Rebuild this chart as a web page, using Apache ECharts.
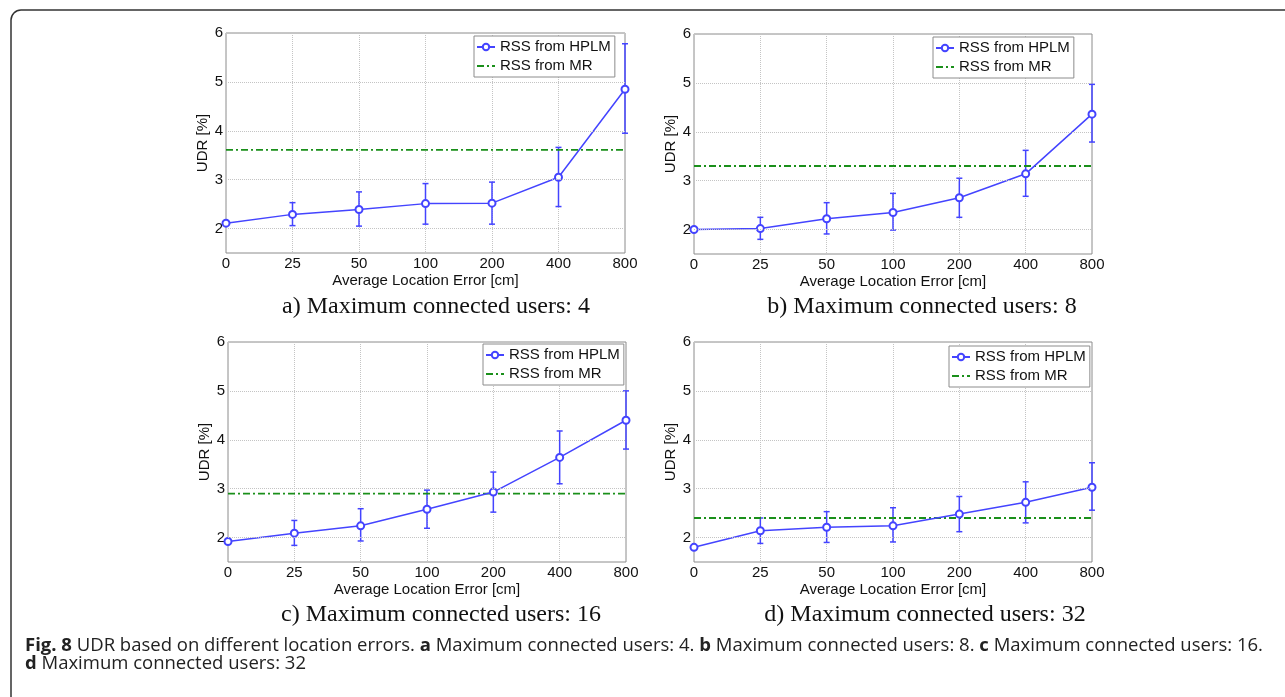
<!DOCTYPE html>
<html>
<head>
<meta charset="utf-8">
<script src="https://cdn.jsdelivr.net/npm/echarts@6/dist/echarts.min.js"></script>
<style>
html,body{margin:0;padding:0;background:#fff;}
#chart{width:1285px;height:697px;}
</style>
</head>
<body>
<div id="chart"></div>
<script>
// ---- data ----
const categories = ['0', '25', '50', '100', '200', '400', '800'];
const yTickValues = [2, 3, 4, 5, 6];

const hplmA = [2.11, 2.29, 2.39, 2.51, 2.52, 3.05, 4.85];
const lowA  = [null, 2.06, 2.05, 2.09, 2.09, 2.45, 3.95];
const highA = [null, 2.53, 2.75, 2.92, 2.95, 3.66, 5.78];
const mrA = 3.61;

const hplmB = [2.00, 2.02, 2.22, 2.35, 2.65, 3.14, 4.36];
const lowB  = [null, 1.80, 1.91, 1.99, 2.25, 2.68, 3.79];
const highB = [null, 2.25, 2.55, 2.74, 3.05, 3.62, 4.97];
const mrB = 3.30;

const hplmC = [1.92, 2.09, 2.24, 2.58, 2.93, 3.64, 4.40];
const lowC  = [null, 1.84, 1.93, 2.19, 2.52, 3.10, 3.81];
const highC = [null, 2.35, 2.59, 2.97, 3.34, 4.18, 5.00];
const mrC = 2.90;

const hplmD = [1.80, 2.14, 2.21, 2.24, 2.48, 2.72, 3.03];
const lowD  = [null, 1.88, 1.90, 1.91, 2.12, 2.30, 2.56];
const highD = [null, 2.40, 2.53, 2.61, 2.84, 3.14, 3.53];
const mrD = 2.40;

const subtitles = [
  'a) Maximum connected users: 4',
  'b) Maximum connected users: 8',
  'c) Maximum connected users: 16',
  'd) Maximum connected users: 32'
];
const xAxisName = 'Average Location Error [cm]';
const yAxisName = 'UDR [%]';
const nameHPLM = 'RSS from HPLM';
const nameMR = 'RSS from MR';
const captionLine1 = '{b|Fig. 8} UDR based on different location errors. {b|a} Maximum connected users: 4. {b|b} Maximum connected users: 8. {b|c} Maximum connected users: 16.';
const captionLine2 = '{b|d} Maximum connected users: 32';

// ---- layout ----
const panels = [
  {hplm: hplmA, low: lowA, high: highA, mr: mrA, grid: {left: 226, top: 33, width: 399, height: 220}, legend: {left: 474, top: 36}, sub: {x: 436, y: 307}},
  {hplm: hplmB, low: lowB, high: highB, mr: mrB, grid: {left: 694, top: 34, width: 398, height: 220}, legend: {left: 933, top: 37}, sub: {x: 922, y: 307}},
  {hplm: hplmC, low: lowC, high: highC, mr: mrC, grid: {left: 228, top: 342, width: 398, height: 220}, legend: {left: 483, top: 344}, sub: {x: 441, y: 615}},
  {hplm: hplmD, low: lowD, high: highD, mr: mrD, grid: {left: 694, top: 342, width: 398, height: 220}, legend: {left: 949, top: 346}, sub: {x: 925, y: 615}}
];

const BLUE = '#4444ff';
const GREEN = '#1a8f1a';
const sans = '"Liberation Sans", Arial, Helvetica, sans-serif';

const grids = [], xAxes = [], yAxes = [], series = [], legends = [], graphics = [];

panels.forEach((p, i) => {
  grids.push(Object.assign({show: true, borderColor: '#8c8c8c', borderWidth: 1, backgroundColor: '#fff'}, p.grid));
  xAxes.push({
    type: 'category', gridIndex: i, data: categories, boundaryGap: false,
    axisLine: {show: false}, axisTick: {show: false},
    axisLabel: {color: '#111', fontSize: 15, fontFamily: sans, margin: 3},
    splitLine: {show: true, lineStyle: {color: '#c4c4c4', type: 'dotted', width: 1}},
    name: xAxisName, nameLocation: 'middle', nameGap: 20,
    nameTextStyle: {color: '#111', fontSize: 15, fontFamily: sans}
  });
  yAxes.push({
    type: 'value', gridIndex: i, min: 1.5, max: 6, interval: 0.5,
    axisLine: {show: false}, axisTick: {show: false},
    axisLabel: {color: '#111', fontSize: 15, fontFamily: sans, margin: 3,
      formatter: v => (Math.abs(v - Math.round(v)) < 1e-9 ? String(Math.round(v)) : '')},
    splitLine: {show: false},
    name: yAxisName, nameLocation: 'middle', nameGap: 10,
    nameTextStyle: {color: '#111', fontSize: 15, fontFamily: sans}
  });
  const errData = [];
  categories.forEach((c, k) => {
    if (p.low[k] != null && p.high[k] != null) errData.push([k, p.low[k], p.high[k]]);
  });
  series.push({
    type: 'custom', xAxisIndex: i, yAxisIndex: i, silent: true,
    data: errData,
    renderItem: (params, api) => {
      const x = api.value(0);
      const lo = api.coord([x, api.value(1)]);
      const hi = api.coord([x, api.value(2)]);
      const cw = 3;
      const st = {stroke: BLUE, lineWidth: 1.5};
      return {type: 'group', children: [
        {type: 'line', shape: {x1: lo[0], y1: lo[1], x2: hi[0], y2: hi[1]}, style: st},
        {type: 'line', shape: {x1: lo[0] - cw, y1: lo[1], x2: lo[0] + cw, y2: lo[1]}, style: st},
        {type: 'line', shape: {x1: hi[0] - cw, y1: hi[1], x2: hi[0] + cw, y2: hi[1]}, style: st}
      ]};
    },
    markLine: {
      silent: true, symbol: ['none', 'none'], label: {show: false},
      lineStyle: {color: '#c4c4c4', type: 'dotted', width: 1},
      emphasis: {disabled: true},
      data: yTickValues.map(v => ({yAxis: v}))
    },
    z: 2
  });
  series.push({
    type: 'line', name: nameMR, xAxisIndex: i, yAxisIndex: i,
    data: [[categories[0], p.mr], [categories[categories.length - 1], p.mr]],
    symbol: 'none', lineStyle: {color: GREEN, width: 1.8, type: [7, 3, 2, 3]},
    itemStyle: {color: GREEN}, silent: true, z: 3
  });
  series.push({
    type: 'line', name: nameHPLM, xAxisIndex: i, yAxisIndex: i,
    data: p.hplm, symbol: 'emptyCircle', symbolSize: 7,
    lineStyle: {color: BLUE, width: 1.5},
    itemStyle: {color: BLUE, borderColor: BLUE, borderWidth: 1.5},
    silent: true, z: 4
  });
  legends.push({
    left: p.legend.left, top: p.legend.top, orient: 'vertical',
    data: [{name: nameHPLM}, {name: nameMR, itemStyle: {opacity: 0}}],
    backgroundColor: '#fff', borderColor: '#8c8c8c', borderWidth: 1, borderRadius: 0,
    padding: [3, 4, 3, 2], itemWidth: 18, itemHeight: 8, itemGap: 3,
    textStyle: {color: '#111', fontSize: 15, fontFamily: sans, lineHeight: 16},
    selectedMode: false
  });
  graphics.push({
    type: 'text', x: p.sub.x, y: p.sub.y,
    style: {text: subtitles[i], fill: '#111', fontSize: 24, fontFamily: '"Liberation Serif", "Times New Roman", serif',
      textAlign: 'center', textVerticalAlign: 'middle'}
  });
});

graphics.push({
  type: 'rect', shape: {x: 11, y: 10, width: 1300, height: 720, r: 10},
  style: {fill: 'none', stroke: '#333', lineWidth: 1.5}, silent: true
});
const capFont = '"Open Sans", sans-serif';
const capRich = {b: {fontWeight: 'bold', fontSize: 18.5, fontFamily: capFont, fill: '#222'}};
graphics.push({
  type: 'text', x: 25, y: 646,
  style: {text: captionLine1, rich: capRich, fill: '#222', fontSize: 18.5, fontFamily: capFont, textVerticalAlign: 'middle'}
});
graphics.push({
  type: 'text', x: 25, y: 664,
  style: {text: captionLine2, rich: capRich, fill: '#222', fontSize: 18.5, fontFamily: capFont, textVerticalAlign: 'middle'}
});

const chart = echarts.init(document.getElementById('chart'), null, {renderer: 'canvas'});
chart.setOption({
  backgroundColor: '#fff',
  animation: false,
  grid: grids, xAxis: xAxes, yAxis: yAxes, series: series, legend: legends,
  graphic: graphics
});
</script>
</body>
</html>
